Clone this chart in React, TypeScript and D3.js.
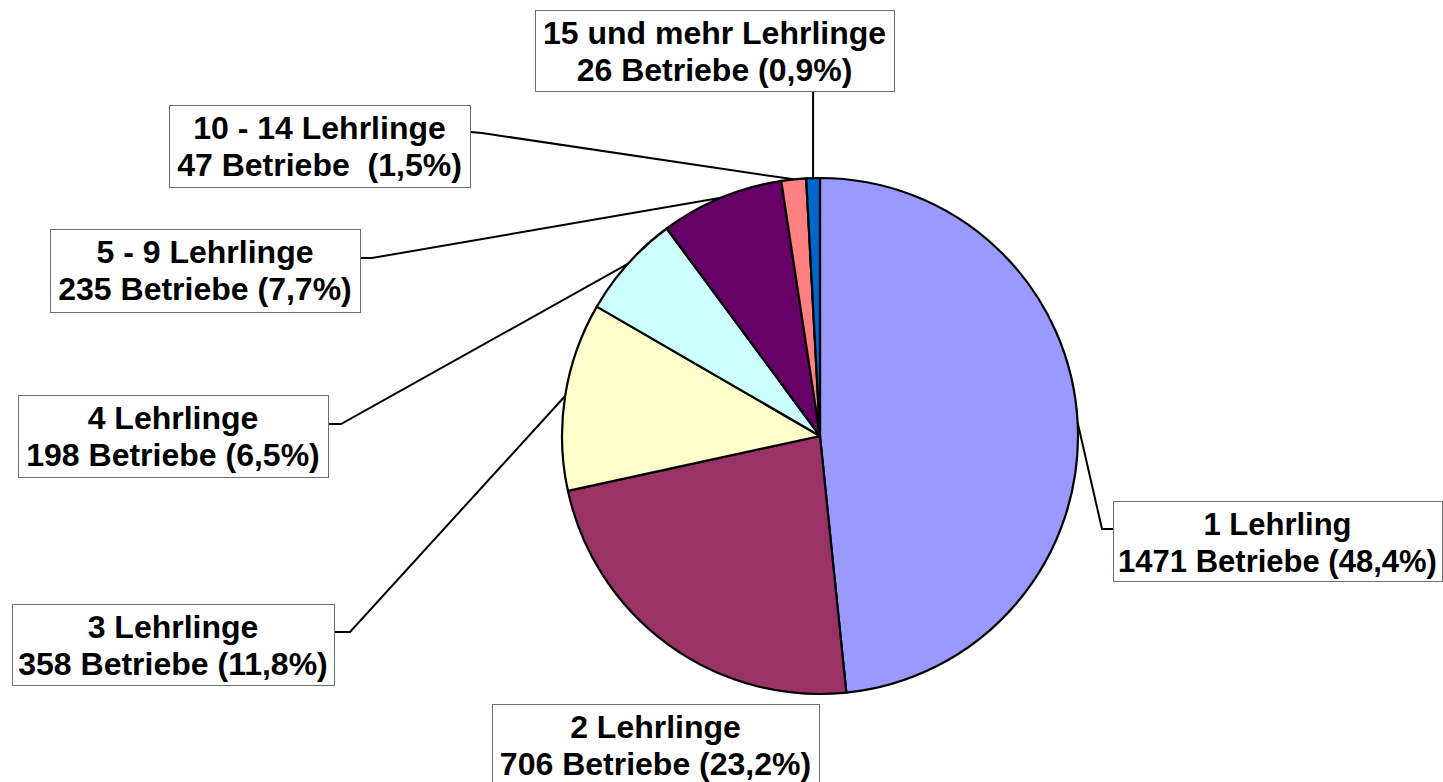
import { useEffect, useRef } from "react";
import * as d3 from "d3";

// --- data ---
const categories = [
  "1 Lehrling",
  "2 Lehrlinge",
  "3 Lehrlinge",
  "4 Lehrlinge",
  "5 - 9 Lehrlinge",
  "10 - 14 Lehrlinge",
  "15 und mehr Lehrlinge",
];
const betriebe = [1471, 706, 358, 198, 235, 47, 26];
const percentLabels = ["48,4%", "23,2%", "11,8%", "6,5%", "7,7%", "1,5%", "0,9%"];
const sliceColors = ["#9999FF", "#993366", "#FFFFCC", "#CCFFFF", "#660066", "#FF8080", "#0066CC"];

// label box layout (x, y, w, h), plus where the leader attaches and bends
type Box = {
  x: number;
  y: number;
  w: number;
  h: number;
  attach: [number, number] | null;
  elbow: [number, number] | null;
  sep?: string;
  size?: number;
};
const boxes: Box[] = [
  { x: 1113, y: 501, w: 329, h: 80, attach: [1113, 529], elbow: [1102, 529], size: 31 },
  { x: 492, y: 704, w: 327, h: 90, attach: null, elbow: null },
  { x: 12, y: 604, w: 322, h: 81, attach: [334, 632], elbow: [350, 632] },
  { x: 18, y: 395, w: 310, h: 82, attach: [328, 424], elbow: [341, 424] },
  { x: 50, y: 229, w: 310, h: 83, attach: [360, 258], elbow: [372, 258] },
  { x: 169, y: 105, w: 301, h: 82, attach: [470, 132], elbow: [482, 133], sep: "  " },
  { x: 535, y: 10, w: 359, h: 81, attach: null, elbow: null },
];

export default function App() {
  const svgRef = useRef<SVGSVGElement>(null);

  useEffect(() => {
    const svg = d3.select(svgRef.current);
    svg.selectAll("*").remove();

    const width = 1443;
    const height = 782;
    const cx = 820;
    const cy = 436;
    const radius = 258;

    svg.append("rect").attr("width", width).attr("height", height).attr("fill", "#ffffff");

    const pie = d3
      .pie<number>()
      .sort(null)
      .value((d) => d)
      .startAngle(0)
      .endAngle(2 * Math.PI);
    const arcs = pie(betriebe);

    const arc = d3.arc<d3.PieArcDatum<number>>().innerRadius(0).outerRadius(radius);
    const edge = d3.arc<d3.PieArcDatum<number>>().innerRadius(radius).outerRadius(radius);

    const g = svg.append("g").attr("transform", `translate(${cx},${cy})`);

    g.selectAll("path")
      .data(arcs)
      .enter()
      .append("path")
      .attr("d", arc)
      .attr("fill", (_, i) => sliceColors[i])
      .attr("stroke", "#000")
      .attr("stroke-width", 2.2)
      .attr("stroke-linejoin", "round");

    // leader lines
    arcs.forEach((d, i) => {
      const b = boxes[i];
      const [ex, ey] = edge.centroid(d);
      const px = cx + ex;
      const py = cy + ey;
      let pts: [number, number][] | null = null;
      if (b.attach && b.elbow) {
        pts = [b.attach, b.elbow, [px, py]];
      } else if (i === arcs.length - 1) {
        pts = [[px, b.y + b.h], [px, py]];
      }
      if (pts) {
        svg
          .append("path")
          .attr("d", d3.line()(pts))
          .attr("fill", "none")
          .attr("stroke", "#000")
          .attr("stroke-width", 2);
      }
    });

    // label boxes
    boxes.forEach((b, i) => {
      const lg = svg.append("g");
      lg.append("rect")
        .attr("x", b.x + 0.5)
        .attr("y", b.y + 0.5)
        .attr("width", b.w)
        .attr("height", b.h)
        .attr("fill", "#ffffff")
        .attr("stroke", "#6e6e6e")
        .attr("stroke-width", 1);
      const tx = b.x + b.w / 2;
      const lines = [categories[i], `${betriebe[i]} Betriebe${b.sep ?? " "}(${percentLabels[i]})`];
      lines.forEach((t, k) => {
        lg.append("text")
          .attr("x", tx)
          .attr("y", b.y + 34 + k * 37)
          .attr("text-anchor", "middle")
          .attr("font-family", "'Liberation Sans', Arial, sans-serif")
          .attr("font-weight", "bold")
          .attr("font-size", b.size ?? 32)
          .attr("fill", "#000")
          .style("white-space", "pre")
          .text(t);
      });
    });
  }, []);

  return (
    <svg
      ref={svgRef}
      width={1443}
      height={782}
      viewBox="0 0 1443 782"
      style={{ position: "absolute", left: 0, top: 0, display: "block" }}
    />
  );
}
